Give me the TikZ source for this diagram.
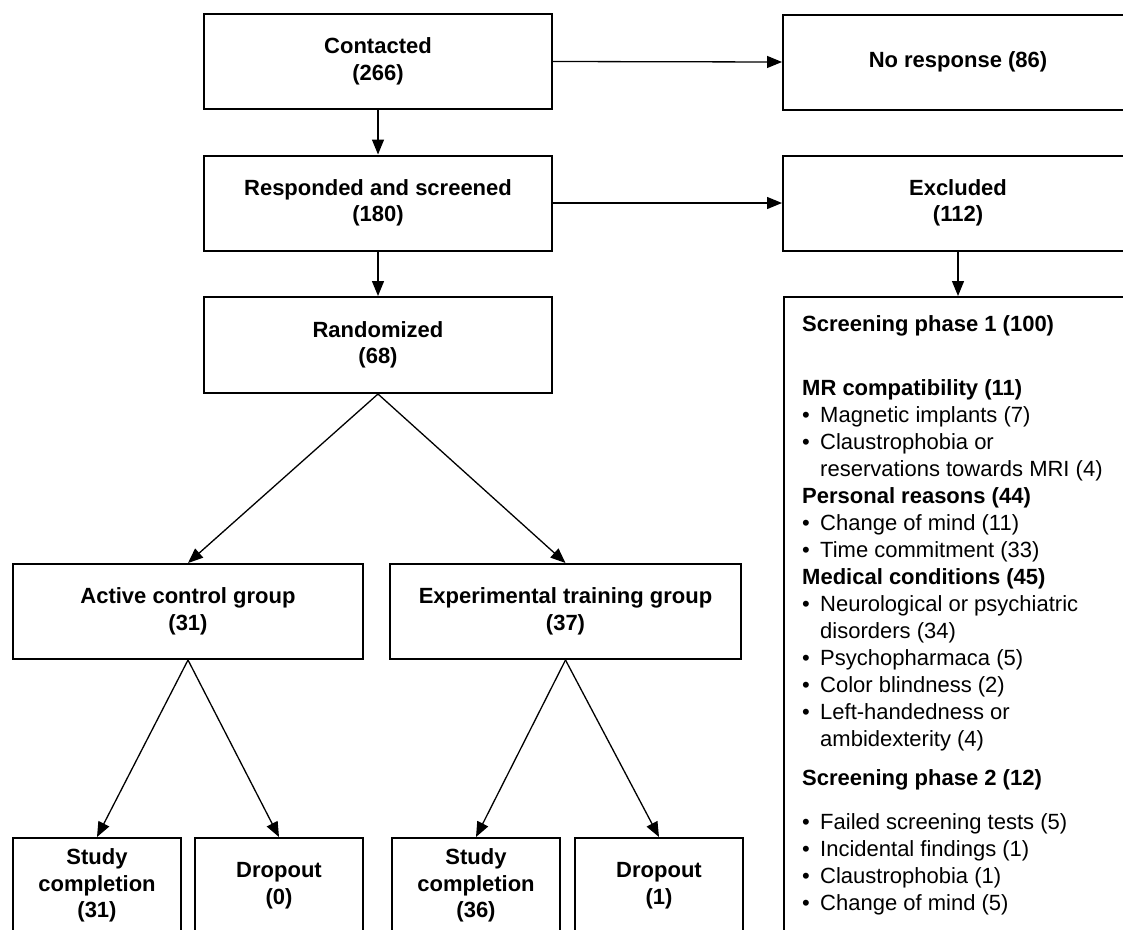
\documentclass[tikz,border=0pt]{standalone}
\usepackage{fontspec}
\setmainfont{Liberation Sans}
\usetikzlibrary{arrows.meta}

\newcommand{\reasonitem}[1]{\makebox[18pt][l]{•}#1}
\newcommand{\reasoncont}[1]{\hspace*{18pt}#1}

\tikzset{
  flowbox/.style={draw, line width=2pt, inner sep=0pt, align=center,
    font=\bfseries\fontsize{22pt}{26.5pt}\selectfont, minimum height=95pt},
  flowarrow/.style={-{Triangle[length=15pt,width=12pt]}, line width=1.3pt},
}

\begin{document}
\begin{tikzpicture}[x=1pt,y=-1pt]
\useasboundingbox (0,0) rectangle (1123,929);
\clip (0,0) rectangle (1123,929);

% main column
\node[flowbox, minimum width=348pt] (contacted) at (378,61.5) {Contacted\\(266)};
\node[flowbox, minimum width=348pt] (responded) at (378,203) {Responded and screened\\(180)};
\node[flowbox, minimum width=348pt, minimum height=96pt] (randomized) at (378,345) {Randomized\\(68)};

% right column
\node[flowbox, minimum width=350pt] (noresp) at (958,62) {No response (86)};
\node[flowbox, minimum width=350pt] (excluded) at (958,203) {Excluded\\(112)};
\node[draw, line width=2pt, inner sep=0pt, anchor=north west,
  minimum width=352pt, minimum height=700pt] (screening) at (783,296) {};
\node[anchor=base west, inner sep=0pt, font=\fontsize{22pt}{27pt}\selectfont] (reasons) at (802,331) {\parbox[t]{330pt}{%
  \textbf{Screening phase 1 (100)}\\[37pt]
  \textbf{MR compatibility (11)}\\
  \reasonitem{Magnetic implants (7)}\\
  \reasonitem{Claustrophobia or}\\
  \reasoncont{reservations towards MRI (4)}\\
  \textbf{Personal reasons (44)}\\
  \reasonitem{Change of mind (11)}\\
  \reasonitem{Time commitment (33)}\\
  \textbf{Medical conditions (45)}\\
  \reasonitem{Neurological or psychiatric}\\
  \reasoncont{disorders (34)}\\
  \reasonitem{Psychopharmaca (5)}\\
  \reasonitem{Color blindness (2)}\\
  \reasonitem{Left-handedness or}\\
  \reasoncont{ambidexterity (4)}\\[12pt]
  \textbf{Screening phase 2 (12)}\\[17pt]
  \reasonitem{Failed screening tests (5)}\\
  \reasonitem{Incidental findings (1)}\\
  \reasonitem{Claustrophobia (1)}\\
  \reasonitem{Change of mind (5)}}};

% groups
\node[flowbox, minimum width=350pt] (active) at (188,611.5) {Active control group\\(31)};
\node[flowbox, minimum width=351pt] (experimental) at (565.5,611.5) {Experimental training group\\(37)};

% outcomes
\node[flowbox, minimum width=168pt] (completeA) at (97,885.5) {Study\\completion\\(31)};
\node[flowbox, minimum width=168pt] (dropA) at (279,885.5) {Dropout\\(0)};
\node[flowbox, minimum width=168pt] (completeB) at (476,885.5) {Study\\completion\\(36)};
\node[flowbox, minimum width=168pt] (dropB) at (659,885.5) {Dropout\\(1)};

% connectors
\draw[flowarrow] (contacted) -- (responded);
\draw[flowarrow] (responded) -- (randomized);
\draw[flowarrow] (contacted.east) -- (noresp.west);
\draw[flowarrow] (responded.east) -- (excluded.west);
\draw[flowarrow] (excluded.south) -- (excluded.south |- screening.north);
\draw[flowarrow] (randomized.south) -- (active.north);
\draw[flowarrow] (randomized.south) -- (experimental.north);
\draw[flowarrow] (active.south) -- (completeA.north);
\draw[flowarrow] (active.south) -- (dropA.north);
\draw[flowarrow] (experimental.south) -- (completeB.north);
\draw[flowarrow] (experimental.south) -- (dropB.north);
\end{tikzpicture}
\end{document}
